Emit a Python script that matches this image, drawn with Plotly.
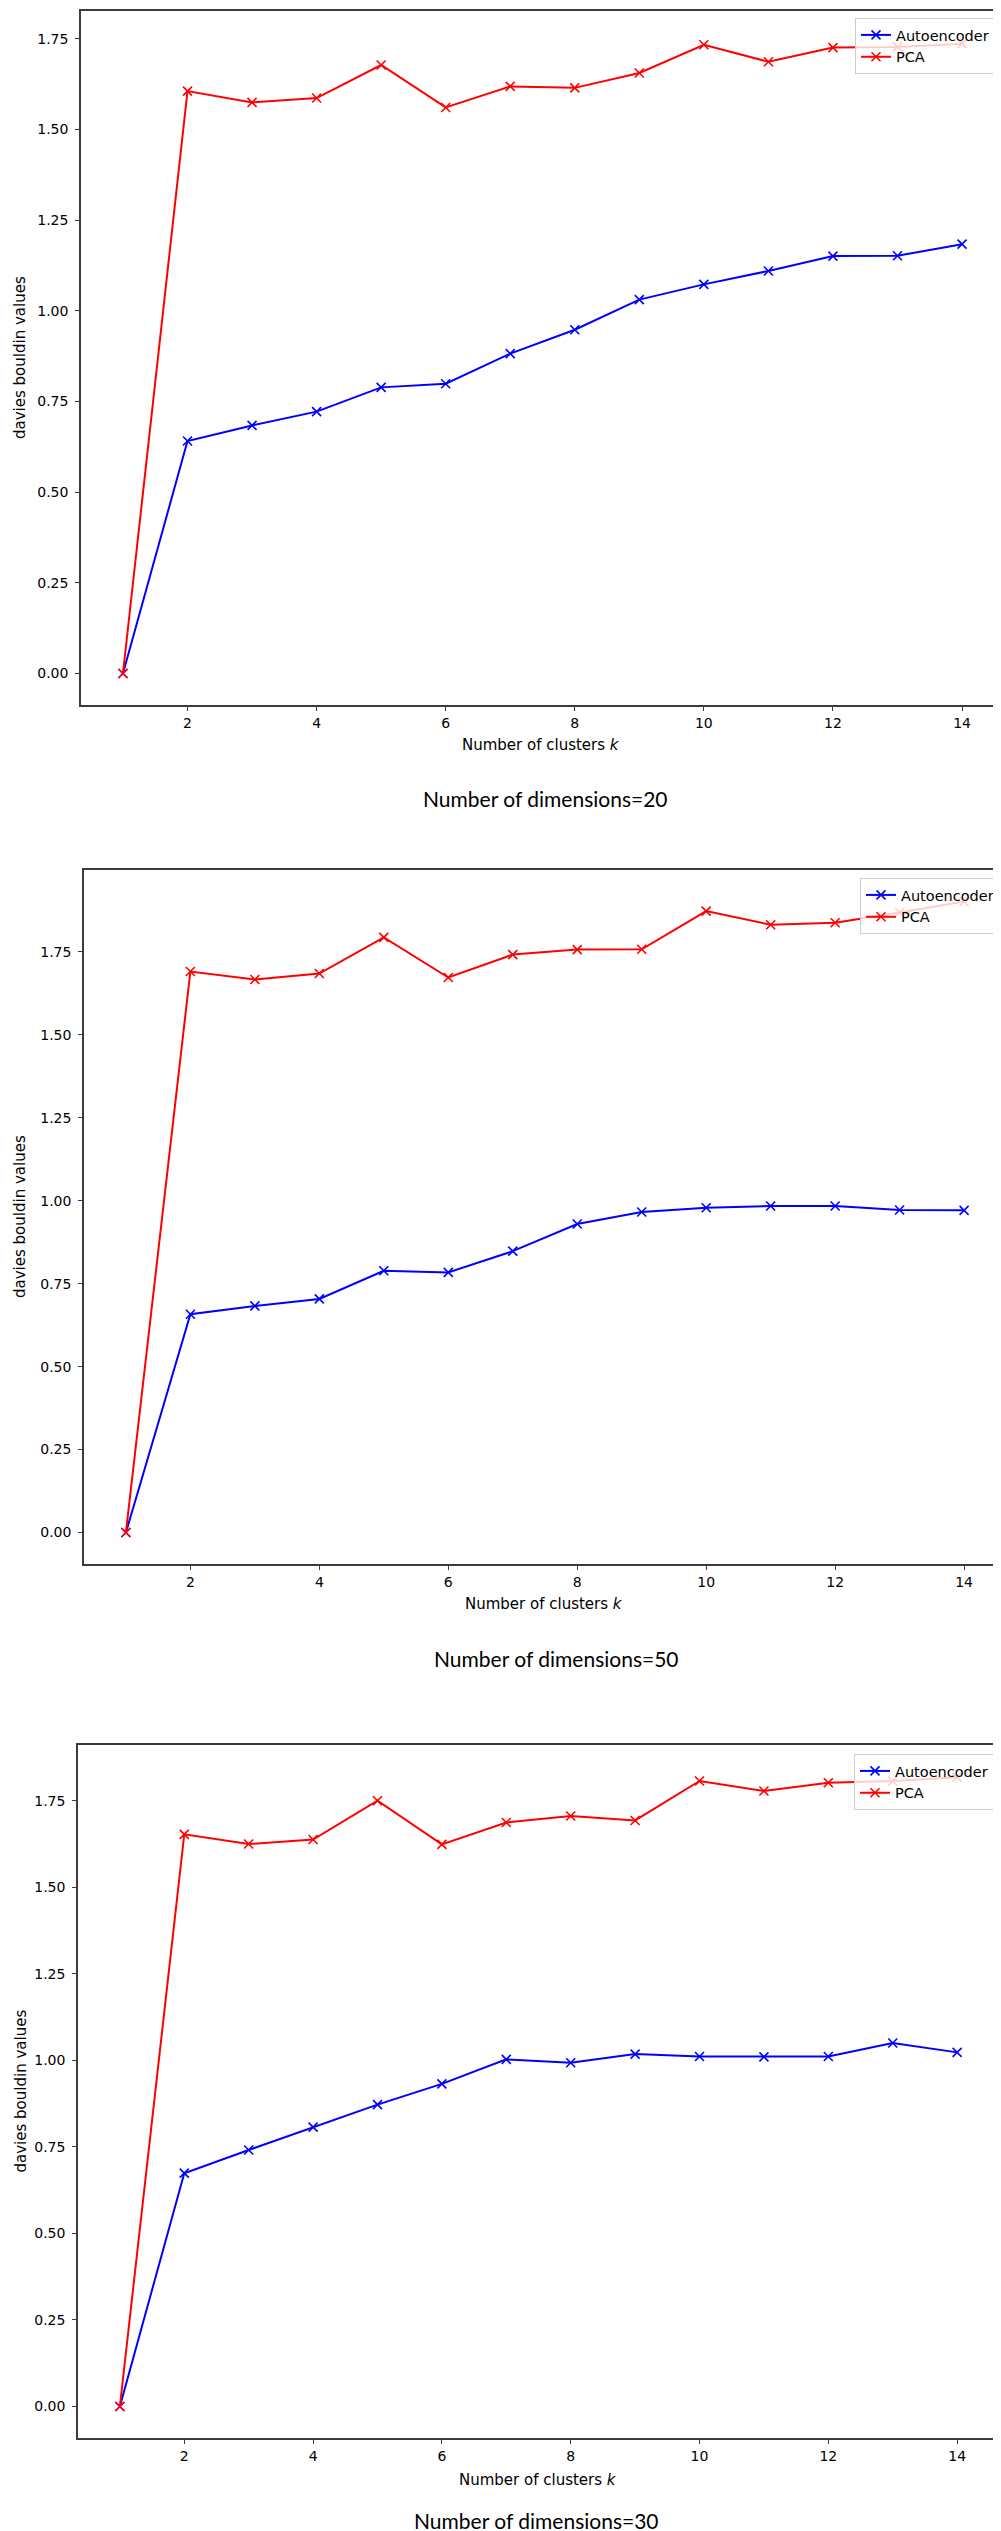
import plotly.graph_objects as go

# ---------------- data ----------------
k_values = [1, 2, 3, 4, 5, 6, 7, 8, 9, 10, 11, 12, 13, 14]

ae_dim20 = [0.0, 0.641, 0.684, 0.722, 0.789, 0.799, 0.882, 0.948, 1.031, 1.073, 1.110, 1.151, 1.152, 1.184]
pca_dim20 = [0.0, 1.606, 1.575, 1.587, 1.678, 1.561, 1.619, 1.615, 1.656, 1.734, 1.687, 1.726, 1.728, 1.737]

ae_dim50 = [0.0, 0.658, 0.683, 0.704, 0.789, 0.784, 0.848, 0.930, 0.966, 0.979, 0.984, 0.984, 0.972, 0.971]
pca_dim50 = [0.0, 1.691, 1.667, 1.685, 1.794, 1.673, 1.742, 1.757, 1.758, 1.873, 1.832, 1.838, 1.869, 1.902]

ae_dim30 = [0.0, 0.674, 0.741, 0.807, 0.872, 0.932, 1.003, 0.993, 1.018, 1.011, 1.010, 1.011, 1.050, 1.023]
pca_dim30 = [0.0, 1.653, 1.625, 1.638, 1.750, 1.624, 1.687, 1.706, 1.693, 1.807, 1.778, 1.802, 1.807, 1.818]

x_tick_vals = [2, 4, 6, 8, 10, 12, 14]
y_tick_vals = [0.0, 0.25, 0.5, 0.75, 1.0, 1.25, 1.5, 1.75]

series_names = ["Autoencoder", "PCA"]
captions = ["Number of dimensions=20", "Number of dimensions=50", "Number of dimensions=30"]
x_label = "Number of clusters <i>k</i>"
y_label = "davies bouldin values"

# ---------------- layout geometry (pixels) ----------------
W, H = 1001, 2531
panels = [
    dict(l=73, r=996, t=3, b=697, yr=[-0.087, 1.827], ae=ae_dim20, pca=pca_dim20,
         cap_y=790, cap_x=537, xl_y=737, xl_x=533, leg=(987, 10)),
    dict(l=76, r=998, t=862, b=1556, yr=[-0.095, 1.997], ae=ae_dim50, pca=pca_dim50,
         cap_y=1650, cap_x=548, xl_y=1596, xl_x=536, leg=(992, 870)),
    dict(l=70, r=991, t=1737, b=2430, yr=[-0.091, 1.911], ae=ae_dim30, pca=pca_dim30,
         cap_y=2512, cap_x=528, xl_y=2472, xl_x=530, leg=(986, 1746)),
]

AX_FONT = "DejaVu Sans"
CAP_FONT = "Lato"
AX_COLOR = "#3c3c3c"

fig = go.Figure()
layout = dict(
    width=W, height=H,
    margin=dict(l=0, r=0, t=0, b=0),
    paper_bgcolor="white", plot_bgcolor="white",
    showlegend=True,
    font=dict(family=AX_FONT, color="black"),
)
annotations = []

for i, p in enumerate(panels):
    n = "" if i == 0 else str(i + 1)
    xa, ya = "x" + n, "y" + n
    leg = "legend" + n

    for name, vals, color in [(series_names[0], p["ae"], "#0000ff"), (series_names[1], p["pca"], "#ff0000")]:
        fig.add_trace(go.Scatter(
            x=k_values, y=vals, name=name, mode="lines+markers",
            xaxis=xa, yaxis=ya, legend=leg,
            line=dict(color=color, width=2),
            marker=dict(symbol="x-thin", size=9, color=color, line=dict(color=color, width=1.6)),
        ))

    layout["xaxis" + n] = dict(
        domain=[p["l"] / W, p["r"] / W], anchor=ya,
        range=[0.35, 14.65], tickvals=x_tick_vals,
        ticks="outside", ticklen=4, tickwidth=1, tickcolor=AX_COLOR,
        showline=True, linecolor=AX_COLOR, linewidth=1.5, mirror=True,
        showgrid=False, zeroline=False,
        tickfont=dict(family=AX_FONT, size=14, color="black"),
    )
    layout["yaxis" + n] = dict(
        domain=[1 - p["b"] / H, 1 - p["t"] / H], anchor=xa,
        range=p["yr"], tickvals=y_tick_vals, tickformat=".2f",
        ticks="outside", ticklen=4, tickwidth=1, tickcolor=AX_COLOR,
        ticklabelstandoff=4,
        showline=True, linecolor=AX_COLOR, linewidth=1.5, mirror=True,
        showgrid=False, zeroline=False,
        tickfont=dict(family=AX_FONT, size=14, color="black"),
    )
    layout[leg] = dict(
        x=p["leg"][0] / W, xanchor="right",
        y=1 - p["leg"][1] / H, yanchor="top",
        bgcolor="rgba(255,255,255,0.8)", bordercolor="#cccccc", borderwidth=1,
        font=dict(family=AX_FONT, size=14.5, color="black"),
        itemwidth=30, tracegroupgap=0,
    )

    annotations.append(dict(
        text=x_label, xref="paper", yref="paper",
        x=p["xl_x"] / W, y=1 - p["xl_y"] / H, xanchor="center", yanchor="middle",
        showarrow=False, font=dict(family=AX_FONT, size=15, color="black"),
    ))
    annotations.append(dict(
        text=y_label, xref="paper", yref="paper", textangle=-90,
        x=12 / W, y=1 - ((p["t"] + p["b"]) / 2) / H, xanchor="center", yanchor="middle",
        showarrow=False, font=dict(family=AX_FONT, size=15, color="black"),
    ))
    annotations.append(dict(
        text=captions[i], xref="paper", yref="paper",
        x=p["cap_x"] / W, y=1 - p["cap_y"] / H, xanchor="center", yanchor="middle",
        showarrow=False, font=dict(family=CAP_FONT, size=21, color="black"),
    ))

layout["annotations"] = annotations
fig.update_layout(**layout)
fig.write_html("out.html")
